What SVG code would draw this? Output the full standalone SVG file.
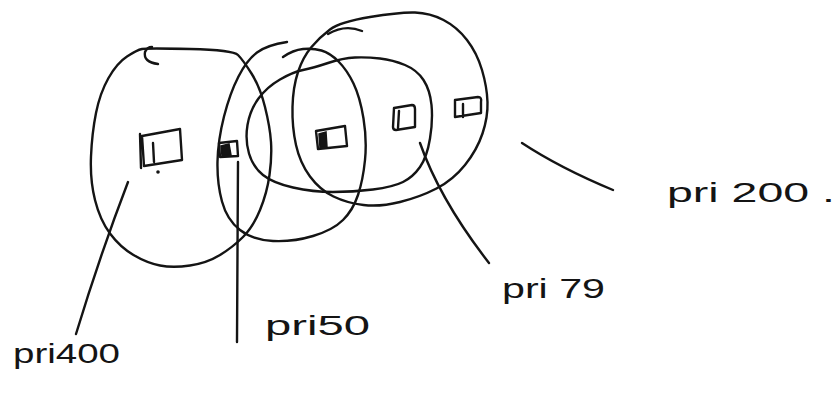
<svg xmlns="http://www.w3.org/2000/svg" width="836" height="393" viewBox="0 0 836 393">
<style>
.s{fill:none;stroke:#141414;stroke-width:2.4;stroke-linecap:round;stroke-linejoin:round}
.f{fill:#141414;stroke:#141414;stroke-width:1.5}
.t{font-family:"Liberation Sans",Arial,sans-serif;font-size:28px;fill:#141414}
</style>
<rect width="836" height="393" fill="#fff"/>
<g id="pri400">
<path class="s" d="M190,49 Q233,50 238,55 Q243,60 251.5,73.5 Q260,87 265,107 Q270,127 271,142 Q272,157 269.5,175 Q267,193 260,210 Q253,227 243,237 Q233,247 220,255 Q207,263 190,265.5 Q173,268 160,265.5 Q147,263 133.5,255 Q120,247 110,233.5 Q100,220 95,200 Q90,180 91,156.5 Q92,133 96,113 Q100,93 108.5,78 Q117,63 127,56.5 Q137,50 142,49 Q147,48 190,49"/>
<path class="s" d="M158,64 Q143,62 145,52 Q147,47 152,47"/>
<path class="s" d="M142,136 L180,129 L182,160 L144,166 Z M140,134 L141,168 M153,143 L154,162"/>
<circle cx="158" cy="172" r="1.8" fill="#141414"/>
<text class="t" x="13" y="363" textLength="107" lengthAdjust="spacingAndGlyphs">pri400</text>
</g>
<g id="pri50">
<path class="s" d="M287,42 Q267,45 257,52.5 Q247,60 238.5,76.5 Q230,93 224,116.5 Q218,140 217.5,161.5 Q217,183 222,201.5 Q227,220 240,230 Q253,240 273,241 Q293,242 313,236 Q333,230 343,220 Q353,210 358,195 Q363,180 365,160 Q367,140 363.5,118.5 Q360,97 353.5,83.5 Q347,70 338.5,61.5 Q330,53 321.5,50.5 Q313,48 303,49 Q293,50 283,57"/>
<path class="s" d="M219,143 L237,141 L238,156 L220,157 Z"/>
<path class="f" d="M221,146 L229,144 L231,155 L222,156 Z"/>
<text class="t" x="265" y="335" textLength="105" lengthAdjust="spacingAndGlyphs">pri50</text>
</g>
<g id="pri79">
<path class="s" d="M280,79.5 Q267,87 258.5,98.5 Q250,110 247.5,125 Q245,140 249,153.5 Q253,167 263,175 Q273,183 293,187.5 Q313,192 333,192 Q353,192 373,189.5 Q393,187 403,182 Q413,177 420,167 Q427,157 430,138.5 Q433,120 431.5,105 Q430,90 423.5,80 Q417,70 405,65 Q393,60 380,58.5 Q367,57 355,57.5 Q343,58 328,63 Q313,68 303,70 Q293,72 280,79.5"/>
<path class="s" d="M394,108 L412,105 Q415,105 415,109 L415,127 L396,130 Q393,130 393,127 Z M399,111 L398,128"/>
<text class="t" x="502" y="298" textLength="103" lengthAdjust="spacingAndGlyphs">pri 79</text>
</g>
<g id="pri200">
<path class="s" d="M370,17 Q400,12 415,12.5 Q430,13 443.5,20 Q457,27 467,40 Q477,53 482,70 Q487,87 487.5,102 Q488,117 482.5,133.5 Q477,150 465,165 Q453,180 436.5,188.5 Q420,197 400,202 Q380,207 363.5,205 Q347,203 333.5,196.5 Q320,190 310,176.5 Q300,163 296,145 Q292,127 292.5,107 Q293,87 298,72 Q303,57 311.5,47 Q320,37 330,29.5 Q340,22 370,17"/>
<path class="s" d="M328,34 Q345,24 362,31"/>
<path class="s" d="M316,131 L345,126 L347,146 L318,149 Z"/>
<path class="f" d="M319,134 L326,132 L327,147 L320,148 Z"/>
<path class="s" d="M455,100 L478,97 Q482,97 481,102 L481,113 L455,117 Z M463,104 L463,117"/>
<text class="t" x="667" y="202" textLength="168" lengthAdjust="spacingAndGlyphs">pri 200 .</text>
</g>
<g id="connectors">
<path class="s" d="M128,182 Q100,255 76,334"/>
<path class="s" d="M238,162 L237,342"/>
<path class="s" d="M420,143 Q440,200 489,263"/>
<path class="s" d="M522,143 Q560,168 613,190"/>
</g>
</svg>
